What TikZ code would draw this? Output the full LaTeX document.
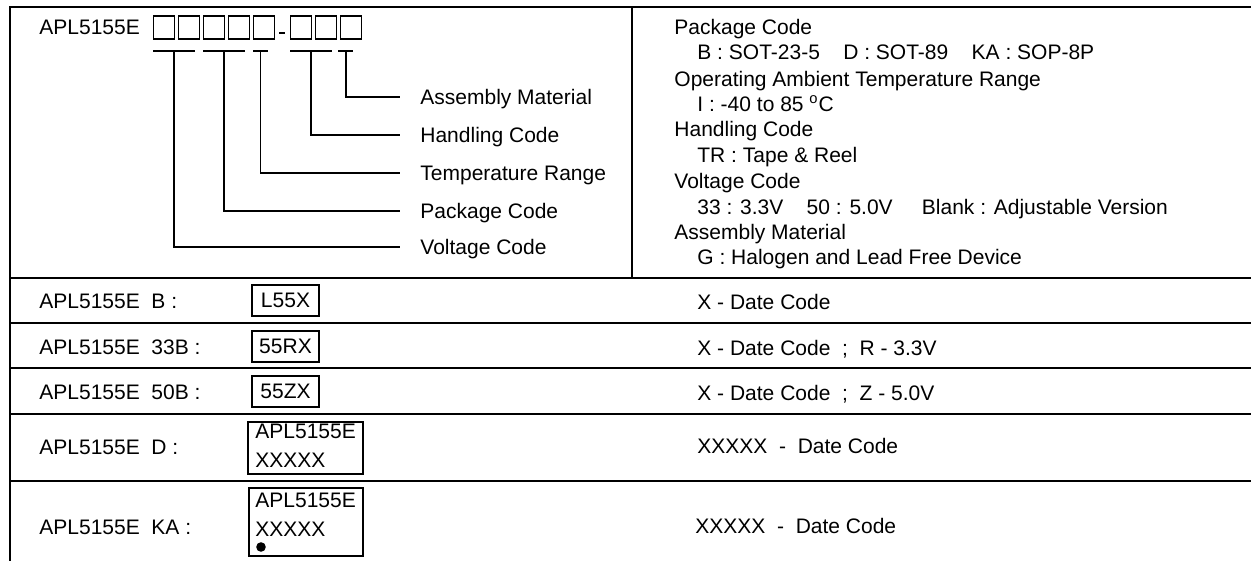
\documentclass[tikz,border=0pt]{standalone}
\usepackage{fontspec}
\setmainfont{Liberation Sans}

\begin{document}
\begin{tikzpicture}[x=0.5pt, y=-0.5pt,
    every node/.style={font=\fontsize{10.5}{12.6}\selectfont},
    lbl/.style={anchor=west, inner sep=0pt, text height=7.5pt, text depth=0pt},
    digit/.style={draw, line width=0.6pt, minimum width=10.3pt, minimum height=11.5pt, inner sep=0pt},
    markbox/.style={draw, line width=0.8pt, inner sep=0pt},
    tableline/.style={line width=1.1pt},
    lead/.style={line width=0.9pt}]
    \useasboundingbox (0,0) rectangle (1251,561);

    % Table lines
    \draw[tableline] (1251,7) -- (10,7) -- (10,561);
    \draw[tableline] (632,7) -- (632,278);
    \foreach \y in {278,323,368,414,481}
        \draw[tableline] (10,\y) -- (1251,\y);

    % Part number with code boxes
    \node[lbl] (pn) at (39,27) {APL5155E};
    \foreach \x [count=\i] in {164,189,214,239,264,301,326,351}
        \node[digit] (d\i) at (\x,27.5) {};
    \draw[lead] (279,33) -- (285,33);
    \foreach \a/\b in {153/195, 203/245, 253/268, 290/332, 338/353}
        \draw[lead] (\a,51) -- (\b,51);
    \coordinate (tV) at (174,51);
    \coordinate (tP) at (224,51);
    \coordinate (tT) at (260.5,51);
    \coordinate (tH) at (311,51);
    \coordinate (tA) at (346,51);

    % Field names
    \node[lbl] (lA) at (420,97) {Assembly Material};
    \node[lbl] (lH) at (420,135) {Handling Code};
    \node[lbl] (lT) at (420,173) {Temperature Range};
    \node[lbl] (lP) at (420,211) {Package Code};
    \node[lbl] (lV) at (420,247) {Voltage Code};
    \draw[lead] (tA) |- ([xshift=-10pt]lA.west);
    \draw[lead] (tH) |- ([xshift=-10pt]lH.west);
    \draw[lead] (tT) |- ([xshift=-10pt]lT.west);
    \draw[lead] (tP) |- ([xshift=-10pt]lP.west);
    \draw[lead] (tV) |- ([xshift=-10pt]lV.west);

    % Code legend
    \foreach \y/\x/\t [count=\i] in {
        27/674/Package Code,
        52/697/B : SOT-23-5~~~~D : SOT-89~~~~KA : SOP-8P,
        79/674/Operating Ambient Temperature Range,
        104/697/I : -40 to 85 \textsuperscript{o}C,
        129/674/Handling Code,
        155/697/TR : Tape \& Reel,
        181/674/Voltage Code,
        207/697/33 : 3.3V~~~~50 : 5.0V~~~~~Blank : Adjustable Version,
        232/674/Assembly Material,
        257/697/G : Halogen and Lead Free Device}
        \node[lbl] (r\i) at (\x,\y) {\t};

    % Marking rows
    \foreach \y/\t [count=\i] in {301/B, 347/33B, 392/50B, 447/D, 527/KA}
        \node[lbl] (row\i) at (39,\y) {APL5155E~~\t{} :};
    \node[markbox, minimum width=33.5pt, minimum height=15.5pt] (m1) at (285.5,300.5) {L55X};
    \node[markbox, minimum width=33.5pt, minimum height=15.5pt] (m2) at (285.5,346.5) {55RX};
    \node[markbox, minimum width=33.5pt, minimum height=15.5pt] (m3) at (285.5,391.5) {55ZX};
    \node[markbox, minimum width=57.5pt, minimum height=26pt] (m4) at (305.5,448) {};
    \node[lbl] (m4a) at (255,431) {APL5155E};
    \node[lbl] (m4b) at (255,460) {XXXXX};
    \node[markbox, minimum width=57pt, minimum height=34pt] (m5) at (306,522) {};
    \node[lbl] (m5a) at (255,500) {APL5155E};
    \node[lbl] (m5b) at (255,529) {XXXXX};
    \fill (261,547) circle (2.4pt);

    % Date codes
    \foreach \y/\x/\t [count=\i] in {
        302/697/X - Date Code,
        348/697/X - Date Code~~;~~R - 3.3V,
        393/697/X - Date Code~~;~~Z - 5.0V,
        446/697/XXXXX~~-~~Date Code,
        526/695/XXXXX~~-~~Date Code}
        \node[lbl] (dc\i) at (\x,\y) {\t};
\end{tikzpicture}
\end{document}
